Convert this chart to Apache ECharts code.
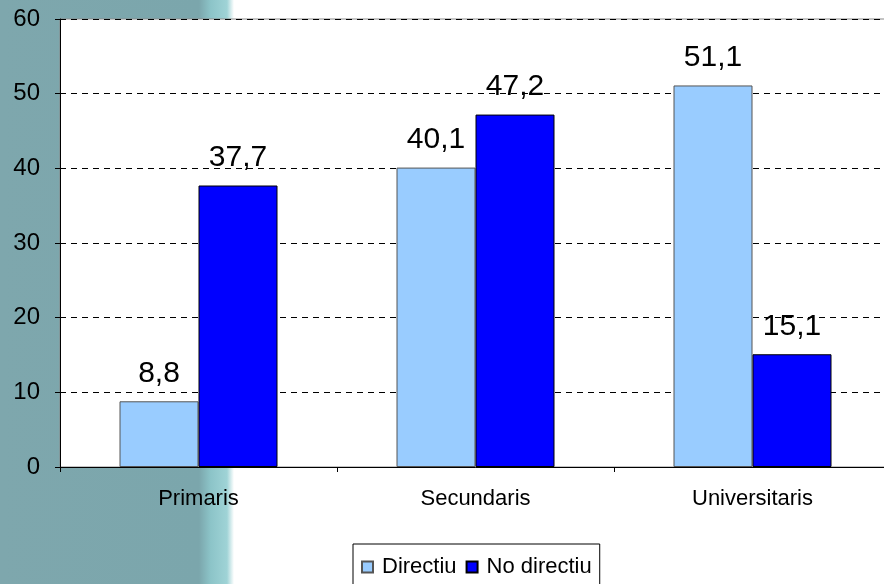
<!DOCTYPE html>
<html>
<head>
<meta charset="utf-8">
<script src="https://cdn.jsdelivr.net/npm/echarts@6/dist/echarts.min.js"></script>
<style>
  html, body { margin: 0; padding: 0; background: #fff; width: 884px; height: 584px; overflow: hidden; }
  /* plot runs a few pixels past the right edge, as in the original */
  #chart { width: 891px; height: 584px; }
</style>
</head>
<body>
<div id="chart"></div>
<script>
// categories and values
const categories = ['Primaris', 'Secundaris', 'Universitaris'];
const directiu = [8.8, 40.1, 51.1];
const noDirectiu = [37.7, 47.2, 15.1];
const yTicks = [0, 10, 20, 30, 40, 50, 60];

const chart = echarts.init(document.getElementById('chart'));

// comma as decimal separator
function fmt(p) {
  return String(p.value).replace('.', ',');
}

const labelStyle = {
  show: true,
  position: 'top',
  distance: 13,
  fontFamily: 'Liberation Sans',
  fontSize: 30,
  color: '#000',
  formatter: fmt
};

chart.setOption({
  animation: false,
  textStyle: { fontFamily: 'Liberation Sans' },
  graphic: [
    {
      type: 'rect',
      z: -10,
      shape: { x: 0, y: 0, width: 234, height: 584 },
      style: {
        fill: new echarts.graphic.LinearGradient(0, 0, 1, 0, [
          { offset: 0, color: '#7ea7ad' },
          { offset: 0.85, color: '#7ba6ac' },
          { offset: 0.9, color: '#8cc4c8' },
          { offset: 0.97, color: '#9fd3d6' },
          { offset: 1, color: '#ffffff' }
        ])
      }
    }
  ],
  grid: {
    left: 60,
    right: 0,
    top: 19,
    bottom: 117,
    show: true,
    backgroundColor: '#fff',
    borderColor: '#888',
    borderWidth: 1
  },
  legend: {
    data: ['Directiu', 'No directiu'],
    icon: 'rect',
    left: 353,
    top: 544,
    padding: [12, 8, 20, 8],
    itemGap: 9,
    itemWidth: 11,
    itemHeight: 11,
    backgroundColor: '#fff',
    borderColor: '#000',
    borderWidth: 1,
    borderRadius: 0,
    textStyle: { fontSize: 22, color: '#000', padding: [0, 0, 0, 4] }
  },
  xAxis: {
    type: 'category',
    data: categories,
    axisLine: { lineStyle: { color: '#000', width: 1 } },
    axisTick: { show: true, alignWithLabel: false, length: 5, lineStyle: { color: '#000' } },
    axisLabel: { fontSize: 22, color: '#000', margin: 21 }
  },
  yAxis: {
    type: 'value',
    min: 0,
    max: 60,
    interval: 10,
    axisLine: { show: true, lineStyle: { color: '#000', width: 1 } },
    axisTick: { show: true, length: 5, lineStyle: { color: '#000' } },
    axisLabel: {
      fontSize: 24,
      color: '#000',
      margin: 20,
      formatter: v => (yTicks.indexOf(v) >= 0 ? String(v) : '')
    },
    splitLine: {
      show: true,
      lineStyle: { color: '#000', type: [6, 5], width: 1 }
    }
  },
  series: [
    {
      name: 'Directiu',
      type: 'bar',
      data: directiu,
      barWidth: 79,
      barGap: 0,
      itemStyle: { color: '#99ccff', borderColor: '#555', borderWidth: 1 },
      label: labelStyle
    },
    {
      name: 'No directiu',
      type: 'bar',
      data: noDirectiu,
      barWidth: 79,
      barGap: 0,
      itemStyle: { color: '#0000ff', borderColor: '#000', borderWidth: 1 },
      label: labelStyle
    }
  ]
});
</script>
</body>
</html>
